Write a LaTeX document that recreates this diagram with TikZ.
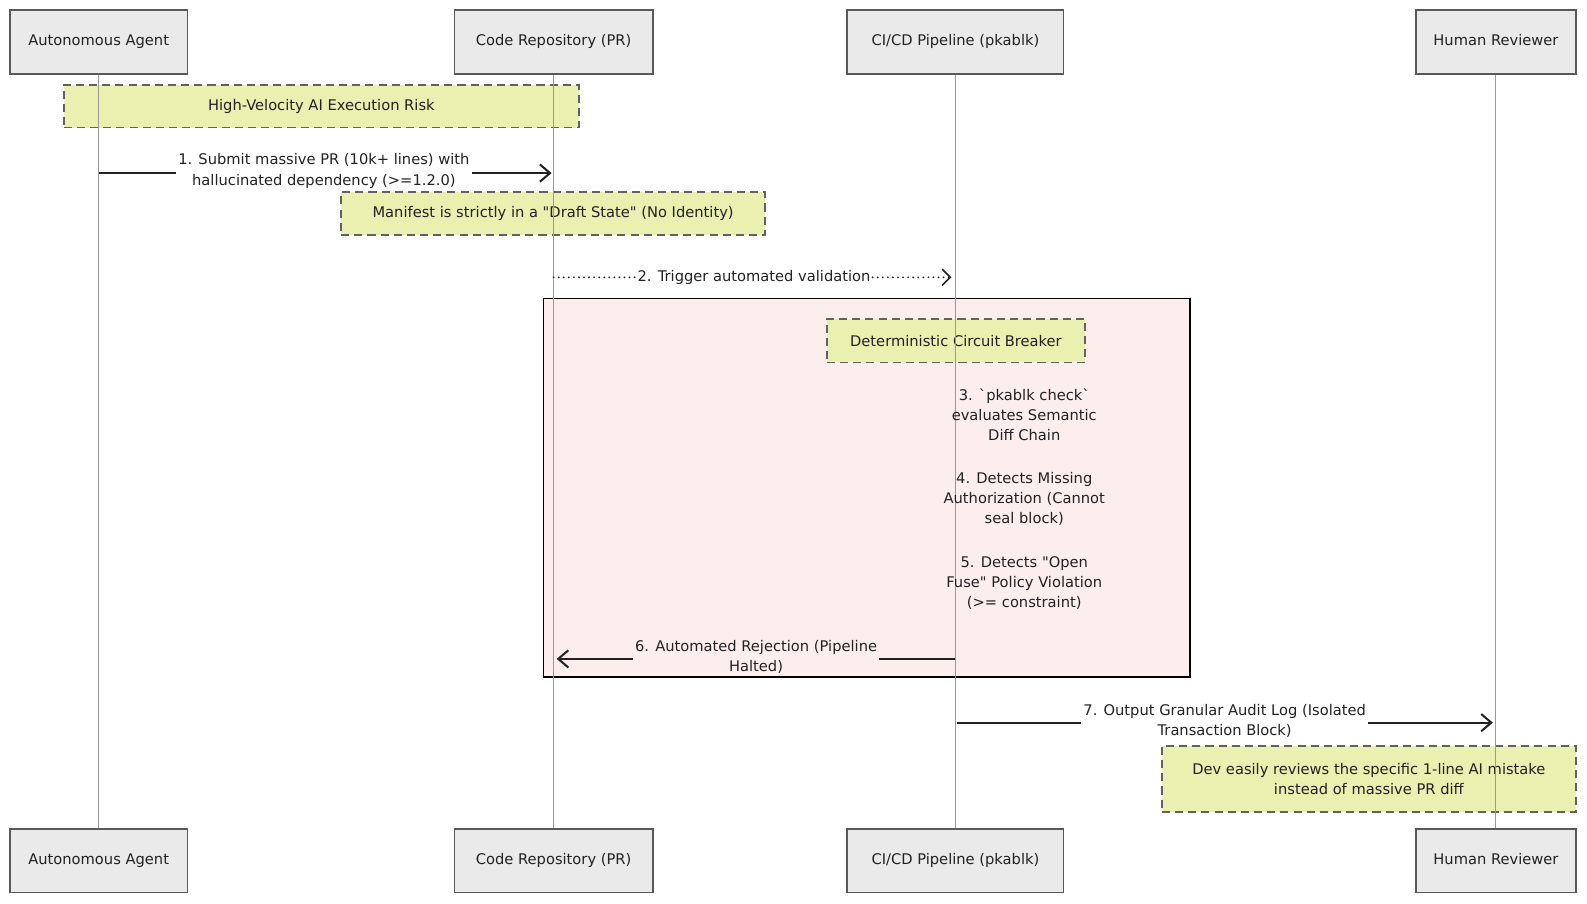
\documentclass[tikz,border=0pt]{standalone}
\usepackage{fontspec}
\setmainfont{DejaVu Sans}
\usetikzlibrary{arrows.meta}
\definecolor{actorfill}{HTML}{EAEAEA}
\definecolor{notefill}{HTML}{EAF0B0}
\definecolor{pinkfill}{HTML}{FDEEEE}
\definecolor{ink}{HTML}{222222}
\begin{document}
\begin{tikzpicture}[x=1pt,y=-1pt,
  font=\fontsize{14.5}{20}\selectfont,
  actor/.style={draw=black!65, line width=1.4pt, fill=actorfill, minimum height=63pt, inner sep=0pt, text=ink, text height=10pt, text depth=3.5pt},
  notebox/.style={draw=black!62, dash pattern=on 8pt off 5pt, line width=1.6pt, fill=notefill, inner sep=0pt, align=center, text=ink},
  life/.style={draw=black!40, line width=0.9pt},
  msg/.style={line width=2pt, draw=ink},
  msgtip/.style={-{Straight Barb[length=10pt,width=17pt,line width=2pt]}},
  dotmsg/.style={line width=2pt, draw=ink, dash pattern=on 0pt off 5pt, line cap=round},
  lbl/.style={align=center, inner sep=2pt, text=ink},
]
\useasboundingbox (0,0) rectangle (1568,893);
% loop region
\node[draw=black, line width=1.6pt, fill=pinkfill, minimum width=639pt, minimum height=374pt, inner sep=0pt] (loop) at (856.5,482) {};
% notes
\node[notebox, minimum width=509pt, minimum height=42pt] (n1) at (317.5,105) {High-Velocity AI Execution Risk};
\node[notebox, minimum width=419pt, minimum height=42pt] (n2) at (546.5,211) {Manifest is strictly in a \textquotedbl Draft State\textquotedbl{} (No Identity)};
\node[notebox, minimum width=255pt, minimum height=43pt] (n3) at (944.5,336.5) {Deterministic Circuit Breaker};
\node[notebox, minimum width=409pt, minimum height=65pt] (n4) at (1352.5,769.5) {Dev easily reviews the specific 1-line AI mistake\\instead of massive PR diff};
% actors
\node[actor, minimum width=175pt] (agT) at (97.5,41.5) {Autonomous Agent};
\node[actor, minimum width=196pt] (reT) at (547,41.5) {Code Repository (PR)};
\node[actor, minimum width=214pt] (ciT) at (944,41.5) {CI/CD Pipeline (pkablk)};
\node[actor, minimum width=158pt] (huT) at (1478,41.5) {Human Reviewer};
\node[actor, minimum width=175pt] (agB) at (97.5,850.5) {Autonomous Agent};
\node[actor, minimum width=196pt] (reB) at (547,850.5) {Code Repository (PR)};
\node[actor, minimum width=214pt] (ciB) at (944,850.5) {CI/CD Pipeline (pkablk)};
\node[actor, minimum width=158pt] (huB) at (1478,850.5) {Human Reviewer};
% lifelines
\draw[life] (agT.south) -- (agB.north);
\draw[life] (reT.south) -- (reB.north);
\draw[life] (ciT.south) -- (ciB.north);
\draw[life] (huT.south) -- (huB.north);
% message 1
\coordinate (m1a) at (agT.south |- 0,171);
\coordinate (m1b) at (reT.south |- 0,171);
\node[lbl] (t1) at (320,169) {1. Submit massive PR (10k+ lines) with\\hallucinated dependency (>=1.2.0)};
\draw[msg] (m1a) -- (m1a -| t1.west);
\draw[msg, msgtip] (m1a -| t1.east) -- ([xshift=-2pt]m1b);
% message 2
\coordinate (m2a) at (reT.south |- 0,274);
\coordinate (m2b) at (ciT.south |- 0,274);
\node[lbl] (t2) at (745,274) {2. Trigger automated validation};
\draw[dotmsg] (m2a) -- (t2.west);
\draw[dotmsg, -{Straight Barb[length=8pt,width=16pt,line width=1.6pt]}] (t2.east) -- ([xshift=-4pt]m2b);
% self notes 3-5
\node[lbl] (t3) at (1012,410) {3. \textasciigrave pkablk check\textasciigrave\\evaluates Semantic\\Diff Chain};
\node[lbl] (t4) at (1012,493) {4. Detects Missing\\Authorization (Cannot\\seal block)};
\node[lbl] (t5) at (1012,576) {5. Detects \textquotedbl Open\\Fuse\textquotedbl{} Policy Violation\\(>= constraint)};
% message 6
\coordinate (m6a) at (ciT.south |- 0,651);
\coordinate (m6b) at (reT.south |- 0,651);
\node[lbl] (t6) at (747,649) {6. Automated Rejection (Pipeline\\Halted)};
\draw[msg] (m6a) -- (m6a -| t6.east);
\draw[msg, msgtip] (m6a -| t6.west) -- ([xshift=3pt]m6b);
% message 7
\coordinate (m7a) at (ciT.south |- 0,714);
\coordinate (m7b) at (huT.south |- 0,714);
\node[lbl] (t7) at (1210,712) {7. Output Granular Audit Log (Isolated\\Transaction Block)};
\draw[msg] ([xshift=2pt]m7a) -- (m7a -| t7.west);
\draw[msg, msgtip] (m7a -| t7.east) -- ([xshift=-3pt]m7b);
\end{tikzpicture}
\end{document}
